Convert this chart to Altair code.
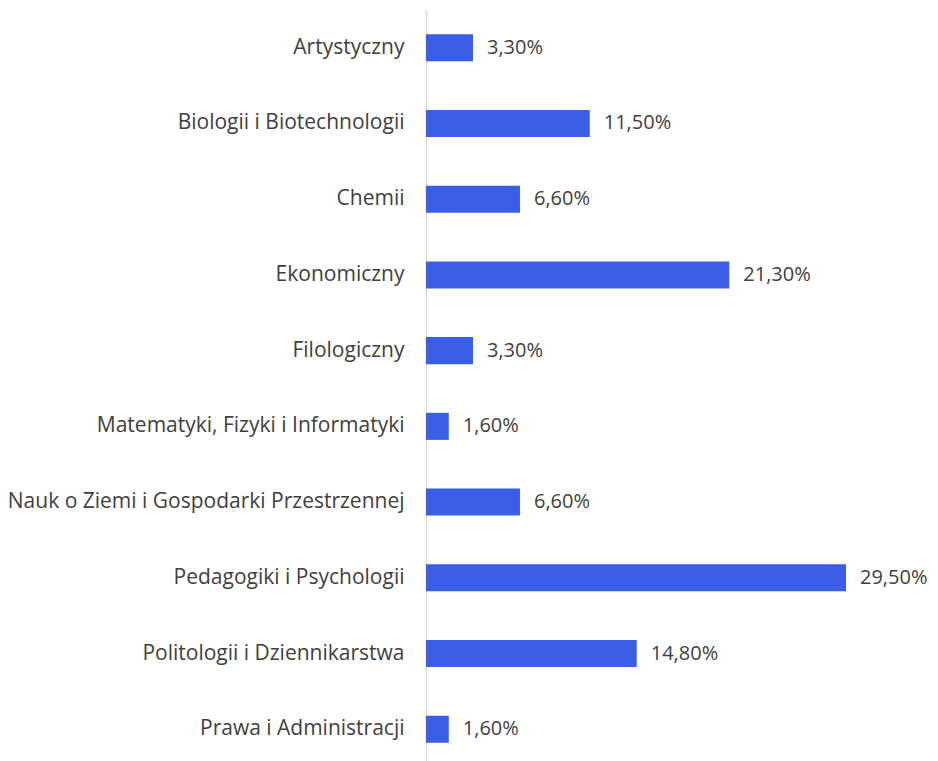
import altair as alt
import pandas as pd

categories = [
    "Artystyczny",
    "Biologii i Biotechnologii",
    "Chemii",
    "Ekonomiczny",
    "Filologiczny",
    "Matematyki, Fizyki i Informatyki",
    "Nauk o Ziemi i Gospodarki Przestrzennej",
    "Pedagogiki i Psychologii",
    "Politologii i Dziennikarstwa",
    "Prawa i Administracji",
]
values = [3.3, 11.5, 6.6, 21.3, 3.3, 1.6, 6.6, 29.5, 14.8, 1.6]
labels = [f"{v:.2f}".replace(".", ",") + "%" for v in values]

df = pd.DataFrame({"cat": categories, "val": values, "lab": labels})

FONT = "Open Sans"
TXT = "#404040"

y = alt.Y("cat:N", sort=categories, title=None,
          scale=alt.Scale(paddingInner=0.643, paddingOuter=0.32),
          axis=alt.Axis(domain=True, domainColor="#d9d9d9", domainWidth=1.5,
                        ticks=False, labelPadding=22, labelFont=FONT,
                        labelFontSize=21, labelColor=TXT, labelLimit=420))
x = alt.X("val:Q", title=None, scale=alt.Scale(domain=[0, 29.5], nice=False),
          axis=None)

bars = alt.Chart(df).mark_bar(color="#3a5ee6").encode(x=x, y=y)
text = alt.Chart(df).mark_text(align="left", baseline="middle", dx=14,
                               font=FONT, fontSize=20, color=TXT).encode(
    x=x, y=alt.Y("cat:N", sort=categories), text="lab:N")

chart = (bars + text).properties(
    width=420, height=757,
    padding={"left": 418, "top": 2, "right": 84, "bottom": 0},
    autosize=alt.AutoSizeParams(type="none"),
    background="white",
).configure_view(stroke=None)

chart.save("out.html", embed_options={"renderer": "svg", "actions": False})
